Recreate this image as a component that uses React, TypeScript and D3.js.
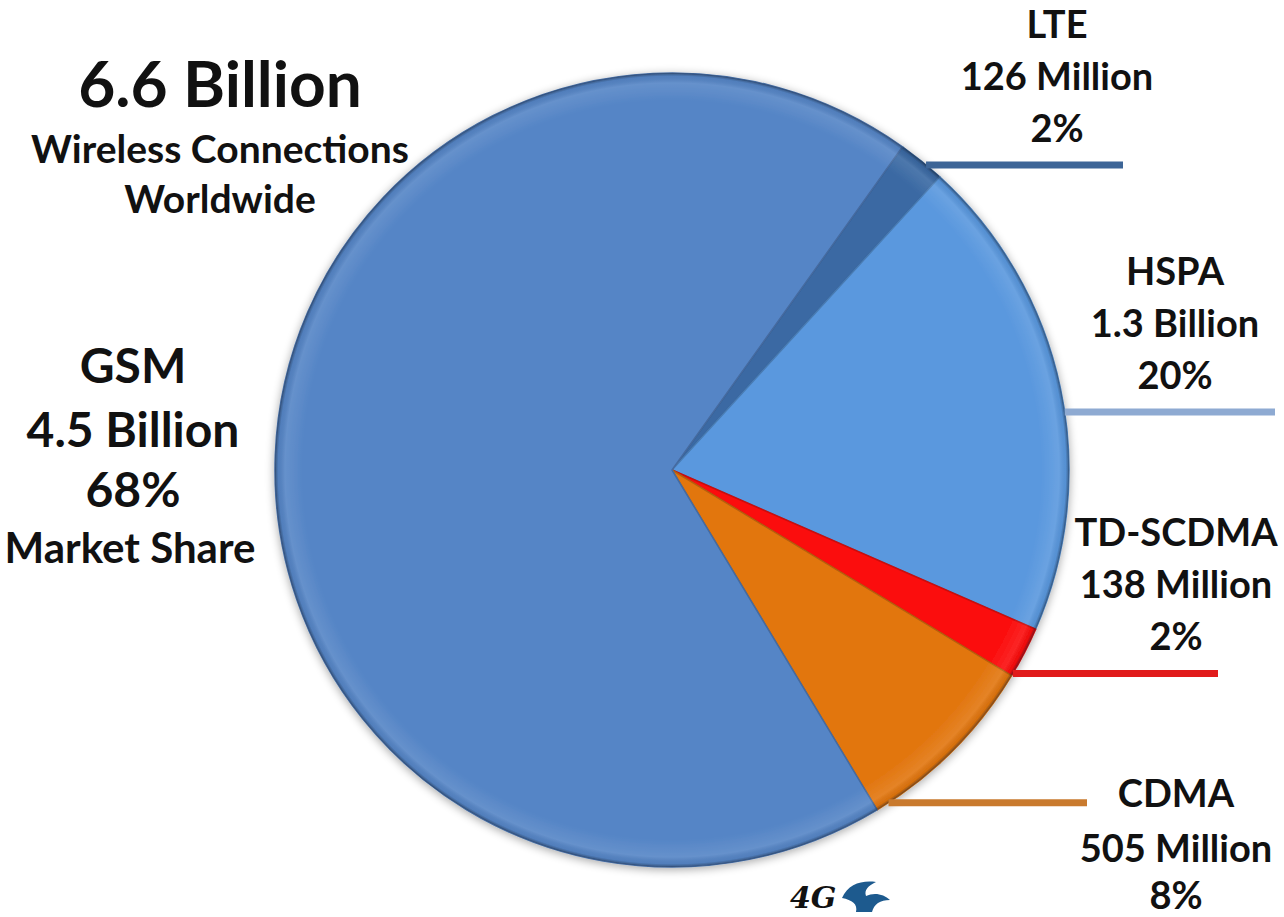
import * as d3 from "d3";

// wireless connections worldwide, by technology
const techNames = ["LTE", "HSPA", "TD-SCDMA", "CDMA", "GSM"];
const subscribers = [126, 1300, 138, 505, 4500]; // millions
const volumeLabels = ["126 Million", "1.3 Billion", "138 Million", "505 Million", "4.5 Billion"];
const shareLabels = ["2%", "20%", "2%", "8%", "68%"];
const sliceColors = ["#3a69a3", "#5a98de", "#fb0d0d", "#e2760f", "#5585c6"];
const lineColors = ["#3d6597", "#8eaad2", "#e11b1b", "#c97a2e"];

const W = 1284;
const H = 917;
const cx = 672;
const cy = 470;
const R = 397;
const FONT = "Lato, 'Open Sans', sans-serif";

// where each leader line leaves its slice (fraction of slice angle) and where it ends
const leaderFrac = [0.62, 0.55, 0.95, 0.93];
const leaderEndX = [1123, 1275, 1218, 1087];
const labelX = [1057, 1175, 1176, 1176];
const labelBelow = [false, false, false, true];

const App = () => {
  const start = (35.5 * Math.PI) / 180;
  const pie = d3
    .pie<number>()
    .sort(null)
    .value((d) => d)
    .startAngle(start)
    .endAngle(start + 2 * Math.PI);
  const arcs = pie(subscribers);
  const arc = d3.arc<d3.PieArcDatum<number>>().innerRadius(0).outerRadius(R);

  const leaders = arcs.slice(0, 4).map((a, i) => {
    const ang = a.startAngle + leaderFrac[i] * (a.endAngle - a.startAngle);
    const x0 = cx + R * Math.sin(ang);
    const y0 = cy - R * Math.cos(ang);
    return { i, x0, y0, x1: leaderEndX[i] };
  });

  return (
    <svg
      width={W}
      height={H}
      style={{ position: "absolute", left: 0, top: 0, background: "#fff" }}
      fontFamily={FONT}
      fontWeight={700}
    >
      <defs>
        <filter id="shadow" x="-10%" y="-10%" width="120%" height="120%">
          <feGaussianBlur in="SourceAlpha" stdDeviation="5" />
          <feOffset dx="0" dy="2" result="b" />
          <feComponentTransfer>
            <feFuncA type="linear" slope="0.35" />
          </feComponentTransfer>
          <feMerge>
            <feMergeNode />
            <feMergeNode in="SourceGraphic" />
          </feMerge>
        </filter>
        <radialGradient id="rim" cx="0.5" cy="0.5" r="0.5">
          <stop offset="0.93" stopColor="#fff" stopOpacity="0" />
          <stop offset="0.975" stopColor="#fff" stopOpacity="0.1" />
          <stop offset="0.992" stopColor="#000" stopOpacity="0.05" />
          <stop offset="1" stopColor="#1a2b45" stopOpacity="0.45" />
        </radialGradient>
      </defs>

      <g transform={`translate(${cx},${cy})`} filter="url(#shadow)">
        {arcs.map((a, i) => (
          <path
            key={techNames[i]}
            d={arc(a) || ""}
            fill={sliceColors[i]}
            stroke={d3.color(sliceColors[i])!.darker(0.6).formatHex()}
            strokeWidth={1.5}
            strokeLinejoin="round"
          />
        ))}
        <circle r={R} fill="url(#rim)" pointerEvents="none" />
      </g>

      {leaders.map((l) => (
        <line
          key={"l" + l.i}
          x1={l.x0}
          y1={l.y0}
          x2={l.x1}
          y2={l.y0}
          stroke={lineColors[l.i]}
          strokeWidth={7}
        />
      ))}

      {leaders.map((l) => {
        const offs = labelBelow[l.i] ? [4, 59, 106] : [-127, -75, -23];
        const lines = [techNames[l.i], volumeLabels[l.i], shareLabels[l.i]];
        return (
          <text key={"t" + l.i} textAnchor="middle" fontSize={38} fill="#111">
            {lines.map((s, k) => (
              <tspan key={k} x={labelX[l.i]} y={l.y0 + offs[k]}>
                {s}
              </tspan>
            ))}
          </text>
        );
      })}

      {/* GSM label on the left */}
      <text textAnchor="middle" fill="#111">
        <tspan x={133} y={383} fontSize={48}>{techNames[4]}</tspan>
        <tspan x={133} y={447} fontSize={48}>{volumeLabels[4]}</tspan>
        <tspan x={133} y={507} fontSize={48}>{shareLabels[4]}</tspan>
        <tspan x={130} y={563} fontSize={42}>Market Share</tspan>
      </text>

      {/* headline */}
      <text textAnchor="middle" fill="#111">
        <tspan x={220} y={107} fontSize={64}>6.6 Billion</tspan>
        <tspan x={220} y={163} fontSize={39}>Wireless Connections</tspan>
        <tspan x={220} y={213} fontSize={39}>Worldwide</tspan>
      </text>

      {/* small 4G logo */}
      <g transform="translate(790,880)">
        <text x={0} y={28} fontSize={30} fontStyle="italic" fontFamily="'DejaVu Serif', serif" fill="#111">
          4G
        </text>
        <path
          d="M52,18 C58,4 72,0 86,2 C78,6 74,10 76,16 C84,12 94,14 100,20 C90,20 84,24 82,32 L66,32 C68,24 62,20 52,18 Z"
          fill="#1d5a8e"
        />
      </g>
    </svg>
  );
};

export default App;
